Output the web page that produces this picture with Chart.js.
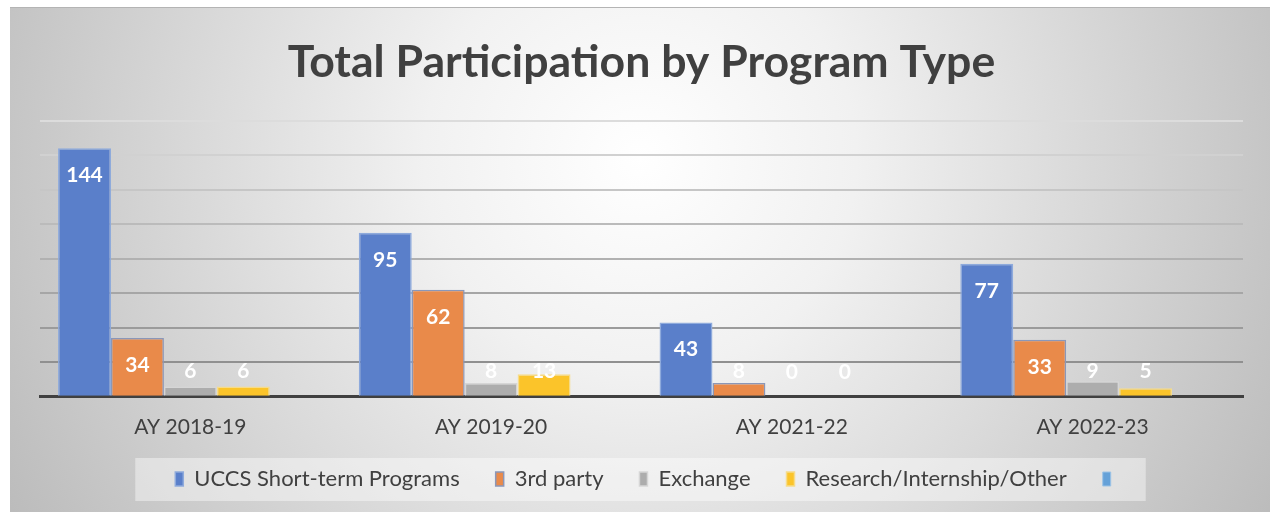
<!DOCTYPE html>
<html>
<head>
<meta charset="utf-8">
<script src="https://cdn.jsdelivr.net/npm/chart.js@4.4.0/dist/chart.umd.min.js"></script>
<style>
html, body { margin: 0; padding: 0; background: #fff; }
#marco { position: absolute; left: 10px; top: 7px; width: 1260px; height: 505px; border-top: 1px solid #b4b4b4; }
</style>
</head>
<body>
<div id="marco"><canvas id="graficoParticipacion"></canvas></div>
<script>
var anios = ['AY 2018-19', 'AY 2019-20', 'AY 2021-22', 'AY 2022-23'];
var programasUccs = [144, 95, 43, 77];
var terceros = [34, 62, 8, 33];
var intercambio = [6, 8, 0, 9];
var investigacion = [6, 13, 0, 5];
var sinNombre = [null, null, null, null];
var ejeMax = 160;
var ejePaso = 20;

// fondo degradado y caja de la leyenda
var fondo = {
    id: 'fondo',
    afterInit: function (chart) {
        // la leyenda usa padding grande entre elementos, pero no queremos tanta altura
        var leyenda = chart.legend;
        var fitOriginal = leyenda.fit;
        leyenda.fit = function () {
            fitOriginal.call(this);
            this.height = 43;
        };
    },
    afterLayout: function (chart) {
        var leyenda = chart.legend;
        leyenda.top -= 26;
        leyenda.bottom = leyenda.top + 90;
        leyenda.left += 7;
        leyenda.right += 7;
    },
    beforeDraw: function (chart) {
        var ctx = chart.ctx;
        var w = chart.width, h = chart.height;
        ctx.save();
        var g = ctx.createRadialGradient(630, 150, 0, 630, 150, 720);
        g.addColorStop(0, '#ffffff');
        g.addColorStop(0.3, '#f1f1f1');
        g.addColorStop(1, '#bcbcbc');
        ctx.fillStyle = g;
        ctx.fillRect(0, 0, w, h);

        var cajas = chart.legend.legendHitBoxes;
        if (cajas && cajas.length) {
            var izq = cajas[0].left - 40;
            var der = cajas[cajas.length - 1].left + cajas[cajas.length - 1].width + 24;
            var arriba = cajas[0].top + cajas[0].height / 2 - 21;
            ctx.fillStyle = 'rgba(255,255,255,0.42)';
            ctx.fillRect(izq, arriba, der - izq, 43);
        }
        ctx.restore();
    }
};

// etiquetas de valores sobre las barras
var etiquetas = {
    id: 'etiquetas',
    afterDatasetsDraw: function (chart) {
        var ctx = chart.ctx;
        ctx.save();
        ctx.font = 'bold 21px Lato';
        ctx.fillStyle = '#ffffff';
        ctx.textAlign = 'center';
        ctx.textBaseline = 'middle';
        chart.data.datasets.forEach(function (ds, i) {
            var meta = chart.getDatasetMeta(i);
            meta.data.forEach(function (barra, j) {
                var valor = ds.data[j];
                if (valor === null) return;
                var y = Math.min(barra.y + 27, barra.base - 25);
                ctx.fillText(valor, barra.x, y);
            });
        });
        ctx.restore();
    }
};

function anchoBorde(ctx) {
    return ctx.raw ? 1.5 : 0;
}

var ctx = document.getElementById('graficoParticipacion').getContext('2d');
var grafico = new Chart(ctx, {
    type: 'bar',
    data: {
        labels: anios,
        datasets: [
            { label: 'UCCS Short-term Programs', data: programasUccs, backgroundColor: '#5a7fca', borderColor: '#8eaadc', borderWidth: anchoBorde },
            { label: '3rd party', data: terceros, backgroundColor: '#e98a4a', borderColor: '#8b97b8', borderWidth: anchoBorde },
            { label: 'Exchange', data: intercambio, backgroundColor: '#adadad', borderColor: '#d6d6d6', borderWidth: anchoBorde },
            { label: 'Research/Internship/Other', data: investigacion, backgroundColor: '#fbc42a', borderColor: '#f6dc8a', borderWidth: anchoBorde },
            { label: '', data: sinNombre, backgroundColor: '#65a1d8', borderColor: '#9cc3e6', borderWidth: 1 }
        ]
    },
    options: {
        responsive: true,
        maintainAspectRatio: false,
        animation: false,
        layout: { padding: { left: 30, right: 27, top: 0, bottom: 12 } },
        datasets: {
            bar: { categoryPercentage: 0.88, barPercentage: 1.0, borderSkipped: 'bottom' }
        },
        scales: {
            x: {
                grid: { display: false, drawTicks: false },
                border: { display: true, color: '#404040', width: 3 },
                ticks: { color: '#404040', font: { family: 'Lato', size: 21 }, padding: 18 }
            },
            y: {
                min: 0,
                max: ejeMax,
                ticks: { display: false, stepSize: ejePaso },
                border: { display: false },
                grid: {
                    drawTicks: false,
                    lineWidth: 2,
                    color: function (c) {
                        var v = c.tick.value;
                        if (v === 0) return 'rgba(0,0,0,0)';
                        var n = Math.round(144 + (v - 20) / 140 * 76);
                        return 'rgb(' + n + ',' + n + ',' + n + ')';
                    }
                }
            }
        },
        plugins: {
            title: {
                display: true,
                text: 'Total Participation by Program Type',
                color: '#404040',
                font: { family: 'Lato', size: 44.6, weight: 'bold' },
                padding: { top: 28, bottom: 31 }
            },
            legend: {
                position: 'bottom',
                labels: {
                    color: '#404040',
                    font: { family: 'Lato', size: 22 },
                    boxWidth: 8,
                    boxHeight: 14,
                    padding: 36
                }
            },
            tooltip: { enabled: false }
        }
    },
    plugins: [fondo, etiquetas]
});
</script>
</body>
</html>
